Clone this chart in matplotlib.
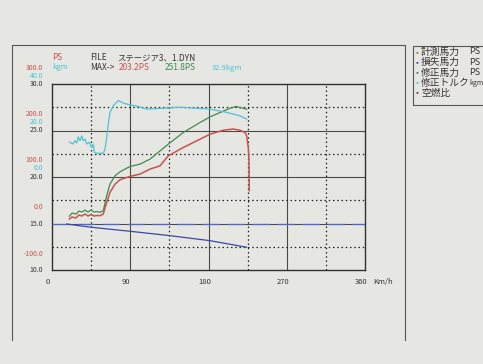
import matplotlib
matplotlib.use("Agg")
import matplotlib.pyplot as plt
import matplotlib.transforms as mtransforms
from matplotlib.patches import Rectangle
from matplotlib.lines import Line2D

plt.rcParams.update(
    {
        "font.family": ["Noto Sans CJK JP", "DejaVu Sans"],
        "font.size": 6,
        "axes.linewidth": 1.0,
    }
)

# measured power (PS) vs speed (km/h)
speed_measured = [20, 23, 27.6, 31, 34.5, 38, 41.4, 44.9, 48.3, 51.8, 55.2, 59, 62.9, 66.7,
                  72.5, 78.2, 89.7, 101.2, 112.7, 124.2, 133.7, 151, 170.2, 181.7, 197,
                  208.5, 216.2, 222, 223.9, 225.7, 226.6, 226.9]
ps_measured = [9.7, 14, 11.8, 18.2, 16.1, 20.4, 16.1, 19.3, 16.1, 17.2, 16.7, 20.4, 45.5, 67,
               84.8, 94, 101.3, 106.2, 117, 124, 145.5, 163.5, 181.3, 192, 200.6,
               203.2, 200.6, 195.7, 188.4, 164.2, 134.8, 70.4]

# corrected power (PS)
speed_corrected = [20, 23, 27.6, 31, 34.5, 38, 41.4, 44.9, 48.3, 51.8, 55.2, 59, 62.9, 66.7,
                   72.5, 78.2, 89.7, 101.2, 112.7, 133.7, 151, 170.2, 181.7, 193.2, 204.7,
                   212.4, 216.2, 220, 223.9]
ps_corrected = [15.5, 22.5, 20.4, 26.8, 24.7, 29, 24.7, 29, 24.7, 25.8, 24, 27.5, 59.7, 84.8,
                102.6, 111.2, 122.7, 127.7, 138.4, 170.6, 195.7, 217.2, 229.2, 238.6, 247.9,
                251.8, 249, 247.9, 245.7]

# loss power (PS)
speed_loss = [17, 45.7, 89.7, 135.7, 181.7, 223.9]
ps_loss = [-1.1, -8.2, -16.7, -26.2, -36.9, -51.1]

# corrected torque (kgm)
speed_torque = [19.9, 23.8, 26.5, 28.4, 30.2, 32.2, 34.2, 36, 38, 39.9, 42.9, 45.7, 47.5,
                48.6, 51.4, 59, 61, 62.9, 64.7, 66.7, 70.5, 76.2, 82, 89.7, 97.4, 108.9,
                124.2, 147.2, 181.7, 200.9, 216.2, 223.9]
torque_kgm = [15.1, 14.2, 15.6, 14.6, 17.3, 15.6, 17.7, 15.6, 16.3, 14.2, 14.9, 12.7, 14.2,
              10.6, 10.2, 10.2, 12, 17, 22.7, 27.8, 30.6, 32.9, 31.8, 31, 30.5, 29.2,
              29.5, 30, 29.2, 27.8, 26.3, 24.9]

ps_labels = [300, 200, 100, 0, -100]
kgm_labels = [40, 20, 0]
afr_labels = [30, 25, 20, 15, 10]
x_labels = [0, 90, 180, 270, 360]

legend_names = ["計測馬力", "損失馬力", "修正馬力", "修正トルク", "空燃比"]
legend_units = ["PS", "PS", "PS", "kgm", ""]

RED = "#c5544c"
GREEN = "#3f8a4e"
CYAN = "#4fc2d4"
BLUE = "#3b48a6"
DASH = "#5767c6"
DARK = "#3a3434"
PAPER = "#e6e6e3"

W, H = 483, 364
fig = plt.figure(figsize=(W / 100, H / 100), dpi=100, facecolor=PAPER)


def px(x, y):
    return x / W, 1 - y / H


ax = fig.add_axes([52 / W, 1 - 270 / H, 313 / W, 186 / H], facecolor=PAPER)
ax.set_xlim(0, 360)
ax.set_ylim(-100, 300)
ax.set_xticks([90, 180, 270])
ax.set_xticks([45, 135, 225, 315], minor=True)
ax.set_yticks([0, 100, 200])
ax.set_yticks([-50, 50, 150, 250], minor=True)
ax.grid(which="major", color="#4a4a4a", linewidth=0.8, linestyle="-")
ax.grid(which="minor", color="#202020", linewidth=0.9, linestyle=(0, (1.2, 2.2)))
ax.tick_params(which="both", length=0, labelbottom=False, labelleft=False)
for s in ax.spines.values():
    s.set_color("#303030")

ax.axhline(0, color=DASH, linewidth=0.9, linestyle=(0, (14, 6)), zorder=3)
ax.plot(speed_loss, ps_loss, color=BLUE, linewidth=0.9, zorder=4)
ax.plot(speed_corrected, ps_corrected, color=GREEN, linewidth=0.9, zorder=4)
ax.plot(speed_measured, ps_measured, color=RED, linewidth=1.1, zorder=5)

tq = ax.twinx()
tq.set_ylim(-40, 40)
tq.axis("off")
tq.plot(speed_torque, torque_kgm, color=CYAN, linewidth=0.9)

afr = ax.twinx()
afr.set_ylim(10, 30)
afr.axis("off")

# stacked left scale labels
for axis, vals, color, dy in [(afr, afr_labels, DARK, 0), (tq, kgm_labels, CYAN, 8.5),
                              (ax, ps_labels, RED, 16.5)]:
    for v in vals:
        tr = mtransforms.offset_copy(
            mtransforms.blended_transform_factory(ax.transAxes, axis.transData),
            fig=fig, x=-9, y=dy, units="dots")
        ax.text(0, v, f"{v:.1f}", transform=tr, color=color, ha="right", va="center",
                fontsize=5, clip_on=False)

for v in x_labels:
    tr = mtransforms.offset_copy(ax.get_xaxis_transform(), fig=fig, x=-4, y=-12, units="dots")
    ax.text(v, 0, str(v), transform=tr, ha="center", va="center", color=DARK, fontsize=5.5)
fig.text(*px(373, 282), "Km/h", ha="left", va="center", color=DARK, fontsize=5.5)

# header
fig.text(*px(52, 58), "PS", color=RED, ha="left", va="center", fontsize=6)
fig.text(*px(52, 67), "kgm", color=CYAN, ha="left", va="center", fontsize=5.5)
fig.text(*px(90, 58), "FILE", color=DARK, ha="left", va="center", fontsize=6)
fig.text(*px(117, 58), "ステージア3、1.DYN", color=DARK, ha="left", va="center", fontsize=6)
fig.text(*px(90, 68), "MAX->", color=DARK, ha="left", va="center", fontsize=6)
fig.text(*px(119, 68), f"{max(ps_measured):.1f}PS", color=RED, ha="left", va="center", fontsize=6)
fig.text(*px(165, 68), f"{max(ps_corrected):.1f}PS", color=GREEN, ha="left", va="center", fontsize=6)
fig.text(*px(212, 68), f"{max(torque_kgm):.1f}kgm", color=CYAN, ha="left", va="center", fontsize=5.5)

# page frame and legend box
fig.add_artist(Line2D([12 / W, 12 / W, 405 / W, 405 / W],
                      [1 - 340 / H, 1 - 45 / H, 1 - 45 / H, 1 - 340 / H],
                      color="#555555", linewidth=0.8))
fig.add_artist(Rectangle(px(413, 105), 80 / W, 59 / H, facecolor="none", edgecolor="#555555",
                         linewidth=0.8))
dot_colors = [RED, BLUE, GREEN, CYAN, "#6a3838"]
for i, (name, unit, c) in enumerate(zip(legend_names, legend_units, dot_colors)):
    y = 52 + i * 10.2
    fig.text(*px(416, y), "•", color=c, ha="left", va="center", fontsize=6)
    fig.text(*px(421, y), name, color=DARK, ha="left", va="center", fontsize=7)
    if unit:
        fig.text(*px(469, y), unit, color=DARK, ha="left", va="center",
                 fontsize=6.5 if unit == "PS" else 5)

fig.savefig("out.png", dpi=100, facecolor=PAPER)
